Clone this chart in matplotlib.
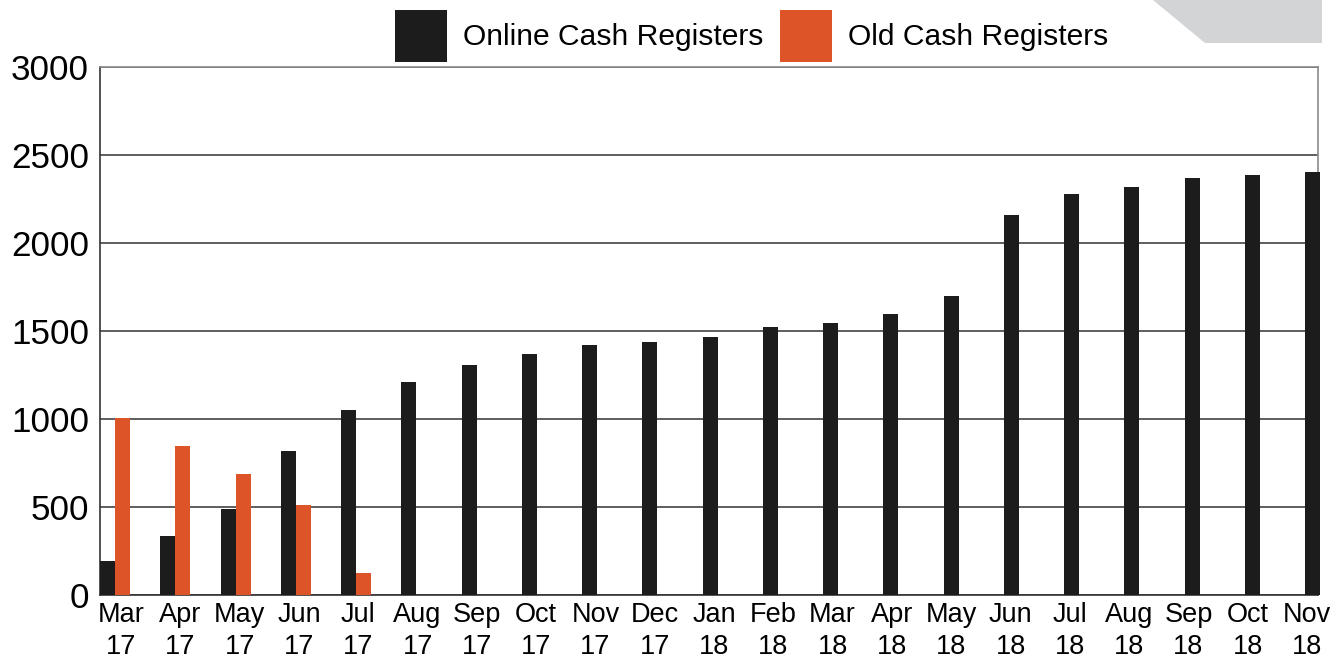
import matplotlib
matplotlib.use("Agg")
import matplotlib.pyplot as plt
import numpy as np
from matplotlib.patches import Rectangle, Polygon

plt.rcParams['font.family'] = ['Liberation Sans', 'DejaVu Sans']

months = ["Mar\n17", "Apr\n17", "May\n17", "Jun\n17", "Jul\n17", "Aug\n17", "Sep\n17",
          "Oct\n17", "Nov\n17", "Dec\n17", "Jan\n18", "Feb\n18", "Mar\n18", "Apr\n18",
          "May\n18", "Jun\n18", "Jul\n18", "Aug\n18", "Sep\n18", "Oct\n18", "Nov\n18"]
online = [195, 333, 491, 820, 1053, 1212, 1306, 1371, 1418, 1435, 1465, 1522, 1544,
          1594, 1698, 2159, 2276, 2318, 2371, 2388, 2406]
old = [1006, 849, 686, 512, 124, 0, 0, 0, 0, 0, 0, 0, 0, 0, 0, 0, 0, 0, 0, 0, 0]
yticks = [0, 500, 1000, 1500, 2000, 2500, 3000]
series_names = ["Online Cash Registers", "Old Cash Registers"]

C_ONLINE = "#1c1c1c"
C_OLD = "#dc5427"

W, H = 1341, 662
fig = plt.figure(figsize=(W / 100, H / 100), dpi=100)
ax = fig.add_axes([100 / W, (H - 595) / H, 1218 / W, 528 / H])

x = np.arange(len(months))
bw = 0.25
ax.bar(x, online, width=bw, align='edge', color=C_ONLINE, zorder=3, clip_on=False)
old_arr = np.array(old, dtype=float)
mask = old_arr > 0
ax.bar(x[mask] + bw, old_arr[mask], width=bw, align='edge', color=C_OLD, zorder=3, clip_on=False)

ax.set_xlim(0, 1218 / 60.25)
ax.set_ylim(0, 3000)
ax.set_yticks(yticks)
ax.set_yticklabels([str(v) for v in yticks], fontsize=25.2)
ax.set_xticks(x * 0.9842 + 0.35)
ax.set_xticklabels(months, fontsize=19.5, linespacing=1.28)
ax.tick_params(axis='both', length=0)
ax.tick_params(axis='y', pad=8)
ax.tick_params(axis='x', pad=5)

ax.yaxis.grid(True, color="#333333", linewidth=1.1, zorder=1)
ax.set_axisbelow(True)
for side in ['left', 'bottom']:
    ax.spines[side].set_color("#333333")
    ax.spines[side].set_linewidth(1.2)
for side in ['top', 'right']:
    ax.spines[side].set_color("#8a8a8a")
    ax.spines[side].set_linewidth(1.2)

# grey decoration top right
poly = Polygon([(1153 / W, 1.0), (1322 / W, 1.0), (1322 / W, 1 - 43 / H), (1205 / W, 1 - 43 / H)],
               closed=True, transform=fig.transFigure, facecolor="#d3d4d6", edgecolor='none')
fig.patches.append(poly)

handles = [Rectangle((0, 0), 1, 1, facecolor=C_ONLINE), Rectangle((0, 0), 1, 1, facecolor=C_OLD)]
fig.legend(handles, series_names, loc='center left', bbox_to_anchor=(395 / W, 1 - 36 / H),
           ncol=2, frameon=False, fontsize=21.6, handlelength=1.73, handleheight=2.29,
           handletextpad=0.53, columnspacing=0.57, borderpad=0, borderaxespad=0)

fig.savefig("out.png", dpi=100)
